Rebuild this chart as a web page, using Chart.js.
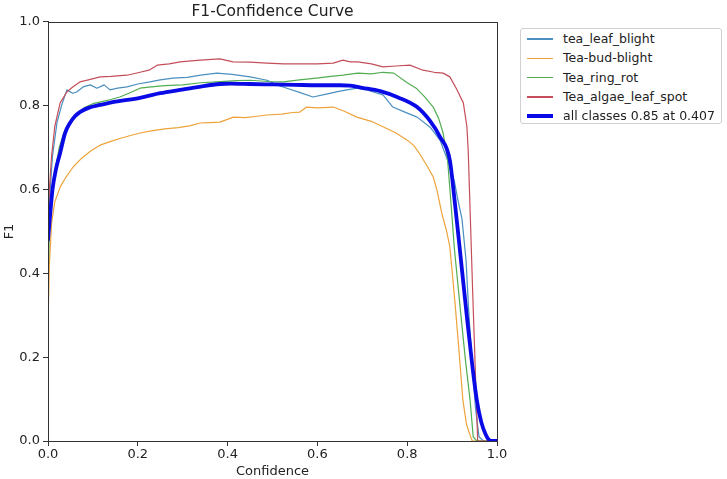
<!DOCTYPE html>
<html>
<head>
<meta charset="utf-8">
<script src="https://cdn.jsdelivr.net/npm/chart.js@4.4.1/dist/chart.umd.min.js"></script>
<style>
  html, body { margin: 0; padding: 0; background: #fff; }
  #wrap { position: relative; width: 727px; height: 479px; font-family: "DejaVu Sans", sans-serif; }
  #legend { position: absolute; left: 520px; top: 28px; width: 200px; height: 94px; border: 1px solid #d0d0d0; border-radius: 3px; background: #fff; }
  .row { position: absolute; left: 0; height: 16px; }
  .swatch { position: absolute; left: 6px; width: 26px; }
  .lbl { position: absolute; left: 42px; top: 0; font-size: 12.5px; line-height: 16px; color: #222; white-space: nowrap; }
</style>
</head>
<body>
<div id="wrap">
  <canvas id="c" width="727" height="479"></canvas>
  <div id="legend"></div>
</div>
<script>
// ---- data ----
const seriesLabels = ["tea_leaf_blight", "Tea-bud-blight", "Tea_ring_rot", "Tea_algae_leaf_spot", "all classes 0.85 at 0.407"];
const yTicks = [0, 0.2, 0.4, 0.6, 0.8, 1.0];
const xTicks = [0, 0.2, 0.4, 0.6, 0.8, 1.0];

const leafBlightX = [0, 0.005, 0.01, 0.02, 0.03, 0.042, 0.055, 0.064, 0.078, 0.094, 0.109, 0.125, 0.138, 0.155, 0.176, 0.2, 0.227, 0.25, 0.278, 0.31, 0.34, 0.376, 0.41, 0.45, 0.488, 0.51, 0.532, 0.56, 0.59, 0.62, 0.65, 0.688, 0.71, 0.746, 0.768, 0.795, 0.822, 0.851, 0.873, 0.89, 0.905, 0.913, 0.922, 0.931, 0.937, 0.945, 0.952, 0.96, 0.97, 1.0];
const leafBlightY = [0.45, 0.6, 0.68, 0.76, 0.8, 0.838, 0.83, 0.833, 0.845, 0.85, 0.842, 0.85, 0.838, 0.842, 0.845, 0.852, 0.857, 0.862, 0.866, 0.868, 0.873, 0.878, 0.875, 0.869, 0.861, 0.85, 0.842, 0.832, 0.821, 0.828, 0.835, 0.842, 0.838, 0.826, 0.797, 0.785, 0.773, 0.749, 0.718, 0.67, 0.62, 0.575, 0.53, 0.432, 0.31, 0.18, 0.08, 0.01, 0, 0];

const budBlightX = [0, 0.003, 0.008, 0.015, 0.027, 0.04, 0.056, 0.075, 0.095, 0.116, 0.14, 0.16, 0.18, 0.205, 0.23, 0.26, 0.29, 0.315, 0.339, 0.36, 0.383, 0.413, 0.44, 0.465, 0.487, 0.52, 0.545, 0.561, 0.576, 0.6, 0.635, 0.66, 0.688, 0.72, 0.746, 0.775, 0.8, 0.815, 0.828, 0.845, 0.858, 0.866, 0.877, 0.888, 0.895, 0.906, 0.915, 0.924, 0.932, 0.94, 0.945, 1.0];
const budBlightY = [0.28, 0.42, 0.52, 0.57, 0.606, 0.63, 0.654, 0.675, 0.692, 0.706, 0.715, 0.722, 0.728, 0.735, 0.74, 0.745, 0.748, 0.752, 0.759, 0.76, 0.761, 0.773, 0.772, 0.775, 0.778, 0.78, 0.784, 0.785, 0.797, 0.795, 0.797, 0.787, 0.773, 0.763, 0.75, 0.735, 0.718, 0.705, 0.685, 0.655, 0.63, 0.6, 0.544, 0.5, 0.463, 0.336, 0.22, 0.098, 0.04, 0.014, 0, 0];

const ringRotX = [0, 0.003, 0.008, 0.015, 0.025, 0.035, 0.05, 0.065, 0.08, 0.1, 0.12, 0.14, 0.16, 0.18, 0.205, 0.23, 0.26, 0.3, 0.34, 0.376, 0.42, 0.45, 0.49, 0.524, 0.56, 0.598, 0.63, 0.657, 0.69, 0.72, 0.746, 0.77, 0.8, 0.82, 0.84, 0.858, 0.87, 0.88, 0.89, 0.897, 0.905, 0.92, 0.93, 0.94, 0.947, 0.955, 1.0];
const ringRotY = [0.38, 0.5, 0.58, 0.64, 0.7, 0.735, 0.76, 0.78, 0.795, 0.805, 0.81, 0.815, 0.821, 0.83, 0.842, 0.845, 0.848, 0.85, 0.855, 0.857, 0.86, 0.861, 0.858, 0.857, 0.862, 0.866, 0.87, 0.873, 0.878, 0.876, 0.88, 0.878, 0.855, 0.842, 0.82, 0.797, 0.77, 0.735, 0.67, 0.575, 0.46, 0.296, 0.19, 0.098, 0.01, 0, 0];

const algaeSpotX = [0, 0.003, 0.008, 0.015, 0.027, 0.042, 0.055, 0.071, 0.09, 0.116, 0.14, 0.176, 0.205, 0.225, 0.243, 0.27, 0.294, 0.339, 0.383, 0.412, 0.45, 0.488, 0.525, 0.561, 0.6, 0.635, 0.657, 0.673, 0.69, 0.72, 0.746, 0.775, 0.806, 0.835, 0.86, 0.88, 0.895, 0.91, 0.925, 0.933, 0.936, 0.946, 0.957, 1.0];
const algaeSpotY = [0.5, 0.6, 0.68, 0.75, 0.807, 0.833, 0.845, 0.857, 0.862, 0.869, 0.87, 0.873, 0.88, 0.885, 0.897, 0.9, 0.905, 0.909, 0.912, 0.905, 0.904, 0.902, 0.9, 0.9, 0.9, 0.902, 0.909, 0.905, 0.905, 0.9, 0.893, 0.895, 0.897, 0.885, 0.88, 0.878, 0.869, 0.84, 0.807, 0.75, 0.69, 0.35, 0.0, 0];

const allClassesX = [0, 0.004, 0.01, 0.018, 0.027, 0.038, 0.049, 0.06, 0.071, 0.09, 0.116, 0.15, 0.205, 0.25, 0.294, 0.34, 0.383, 0.407, 0.45, 0.5, 0.55, 0.6, 0.65, 0.673, 0.7, 0.74, 0.78, 0.822, 0.85, 0.873, 0.895, 0.905, 0.915, 0.933, 0.945, 0.955, 0.965, 0.975, 0.982, 0.99, 1.0];
const allClassesY = [0.48, 0.53, 0.6, 0.65, 0.687, 0.735, 0.759, 0.775, 0.785, 0.795, 0.802, 0.81, 0.819, 0.83, 0.838, 0.846, 0.852, 0.853, 0.852, 0.851, 0.85, 0.849, 0.849, 0.848, 0.843, 0.835, 0.82, 0.797, 0.765, 0.726, 0.67, 0.58, 0.48, 0.296, 0.18, 0.098, 0.045, 0.015, 0.003, 0, 0];

// ---- styles ----
const colors = ["#4a8fc0", "#eda33a", "#52ad52", "#c44f5a", "#0a0ae6"];
const widths = [1.2, 1.2, 1.2, 1.2, 3.8];
const xsAll = [leafBlightX, budBlightX, ringRotX, algaeSpotX, allClassesX];
const ysAll = [leafBlightY, budBlightY, ringRotY, algaeSpotY, allClassesY];
const drawOrder = [5, 4, 3, 2, 1];

const FONT = "'DejaVu Sans', sans-serif";
const TXT = "#222";

const datasets = seriesLabels.map((lab, i) => ({
  label: lab,
  data: xsAll[i].map((x, j) => ({ x: x, y: ysAll[i][j] })),
  borderColor: colors[i],
  backgroundColor: colors[i],
  borderWidth: widths[i],
  pointRadius: 0,
  tension: 0,
  cubicInterpolationMode: i === 4 ? 'monotone' : 'default',
  fill: false,
  order: drawOrder[i],
  borderJoinStyle: 'round',
  borderCapStyle: 'round'
}));

const frame = {
  id: 'frame',
  afterDatasetsDraw(chart) {
    const a = chart.chartArea, ctx = chart.ctx;
    ctx.save();
    ctx.strokeStyle = '#333';
    ctx.lineWidth = 1;
    ctx.strokeRect(Math.round(a.left) + 0.5, Math.round(a.top) + 0.5, Math.round(a.right - a.left), Math.round(a.bottom - a.top));
    ctx.restore();
  }
};

new Chart(document.getElementById('c'), {
  type: 'line',
  data: { datasets },
  plugins: [frame],
  options: {
    responsive: false,
    animation: false,
    layout: { padding: { left: 0, right: 230, top: 0, bottom: 0 } },
    plugins: {
      legend: { display: false },
      tooltip: { enabled: false },
      title: {
        display: true,
        text: 'F1-Confidence Curve',
        fullSize: false,
        color: TXT,
        font: { family: FONT, size: 15.5, weight: 'normal', lineHeight: 1.2 },
        padding: { top: 3, bottom: 0.4 }
      }
    },
    scales: {
      x: {
        type: 'linear',
        min: 0, max: 1,
        afterFit(s) { s.height = 38; },
        afterBuildTicks(s) { s.ticks = xTicks.map(v => ({ value: v })); },
        ticks: { color: TXT, font: { family: FONT, size: 13 }, padding: 1, callback: v => Number(v).toFixed(1), maxRotation: 0 },
        grid: { display: true, drawOnChartArea: false, drawTicks: true, tickLength: 5, color: '#333' },
        border: { display: true, color: '#333' },
        title: { display: true, text: 'Confidence', color: TXT, font: { family: FONT, size: 13 }, padding: { top: 1, bottom: 0 } }
      },
      y: {
        type: 'linear',
        min: 0, max: 1,
        afterFit(s) { s.width = 48; },
        afterBuildTicks(s) { s.ticks = yTicks.map(v => ({ value: v })); },
        ticks: { color: TXT, font: { family: FONT, size: 13 }, padding: 3, callback: v => Number(v).toFixed(1) },
        grid: { display: true, drawOnChartArea: false, drawTicks: true, tickLength: 5, color: '#333' },
        border: { display: true, color: '#333' },
        title: { display: true, text: 'F1', color: TXT, font: { family: FONT, size: 13 }, padding: { top: 2, bottom: 0 } }
      }
    }
  }
});

// ---- legend (built from the same label / colour arrays) ----
const leg = document.getElementById('legend');
seriesLabels.forEach((lab, i) => {
  const row = document.createElement('div');
  row.className = 'row';
  row.style.top = (2 + i * 19.25) + 'px';
  row.style.width = '100%';
  const sw = document.createElement('div');
  sw.className = 'swatch';
  sw.style.height = (i === 4 ? 4 : 1.5) + 'px';
  sw.style.top = (8 - (i === 4 ? 2 : 0.75)) + 'px';
  sw.style.background = colors[i];
  const tx = document.createElement('span');
  tx.className = 'lbl';
  tx.textContent = lab;
  row.appendChild(sw);
  row.appendChild(tx);
  leg.appendChild(row);
});
</script>
</body>
</html>
